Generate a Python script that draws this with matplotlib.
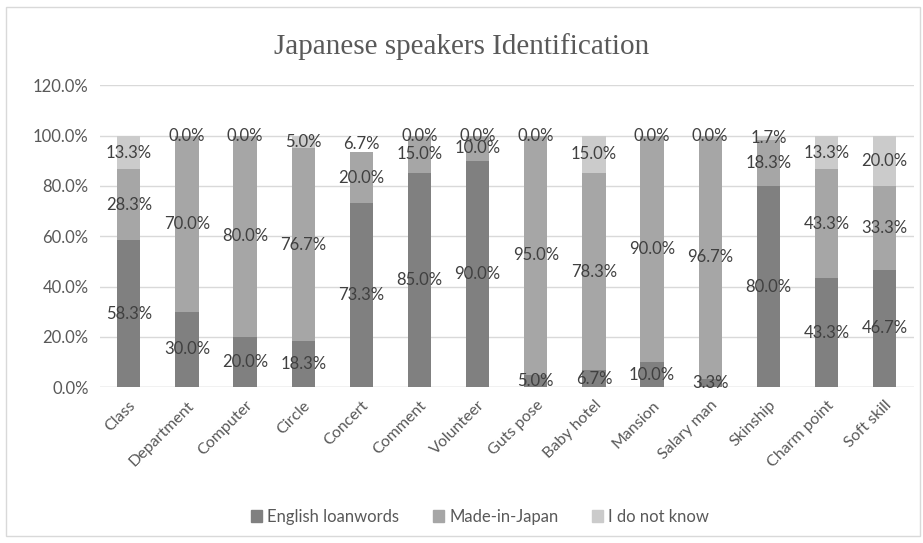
import matplotlib.pyplot as plt
import numpy as np

plt.rcParams['font.family'] = ['Lato', 'DejaVu Sans']

words = ["Class", "Department", "Computer", "Circle", "Concert", "Comment",
         "Volunteer", "Guts pose", "Baby hotel", "Mansion", "Salary man",
         "Skinship", "Charm point", "Soft skill"]
english = [58.3, 30.0, 20.0, 18.3, 73.3, 85.0, 90.0, 5.0, 6.7, 10.0, 3.3, 80.0, 43.3, 46.7]
made_in_japan = [28.3, 70.0, 80.0, 76.7, 20.0, 15.0, 10.0, 95.0, 78.3, 90.0, 96.7, 18.3, 43.3, 33.3]
dont_know = [13.3, 0.0, 0.0, 5.0, 6.7, 0.0, 0.0, 0.0, 15.0, 0.0, 0.0, 1.7, 13.3, 20.0]

series = [("English loanwords", english, "#808080"),
          ("Made-in-Japan", made_in_japan, "#a6a6a6"),
          ("I do not know", dont_know, "#cbcbcb")]

fig = plt.figure(figsize=(9.23, 5.43), dpi=100)
ax = fig.add_axes([0.108, 0.287, 0.882, 0.556])

x = np.arange(len(words))
bottom = np.zeros(len(words))
for name, vals, col in series:
    v = np.array(vals) / 100
    colors = [col] * len(words)
    if name == "I do not know":
        colors[words.index("Concert")] = "white"
    ax.bar(x, v, 0.4, bottom=bottom, color=colors, label=name, zorder=2)
    for i in range(len(words)):
        ax.text(x[i], bottom[i] + v[i] / 2, f"{vals[i]:.1f}%", ha="center", va="center",
                fontsize=12, color="#404040", zorder=3)
    bottom += v
handles, labels = ax.get_legend_handles_labels()

ax.set_xlim(-0.5, len(words) - 0.5)
ax.set_ylim(0, 1.2)
ax.set_yticks(np.arange(0, 1.21, 0.2))
ax.set_yticklabels([f"{t * 100:.1f}%" for t in np.arange(0, 1.21, 0.2)])
ax.yaxis.grid(True, color="#d9d9d9", lw=1, zorder=0)
for s in ax.spines.values():
    s.set_visible(False)
ax.axhline(0, color="#d9d9d9", lw=1, zorder=1)
ax.tick_params(length=0, labelsize=12, colors="#595959", pad=8)
ax.set_xticks(x)
ax.set_xticklabels(words, rotation=45, ha="right", rotation_mode="anchor", fontsize=11.5)

fig.text(0.5, 0.915, "Japanese speakers Identification", ha="center", va="center",
         fontsize=21, family="Liberation Serif", color="#595959")

leg = fig.legend(handles, labels, loc="center", bbox_to_anchor=(0.52, 0.048), ncol=3,
                 frameon=False, fontsize=12, handlelength=0.7, handleheight=0.7,
                 handletextpad=0.3, columnspacing=2.0)
for t in leg.get_texts():
    t.set_color("#595959")
for h, (_, _, col) in zip(leg.legend_handles, series):
    h.set_color(col)

fig.patches.append(plt.Rectangle((0.007, 0.012), 0.99, 0.975, transform=fig.transFigure,
                                 fill=False, edgecolor="#d9d9d9", lw=1))
fig.savefig("out.png")
